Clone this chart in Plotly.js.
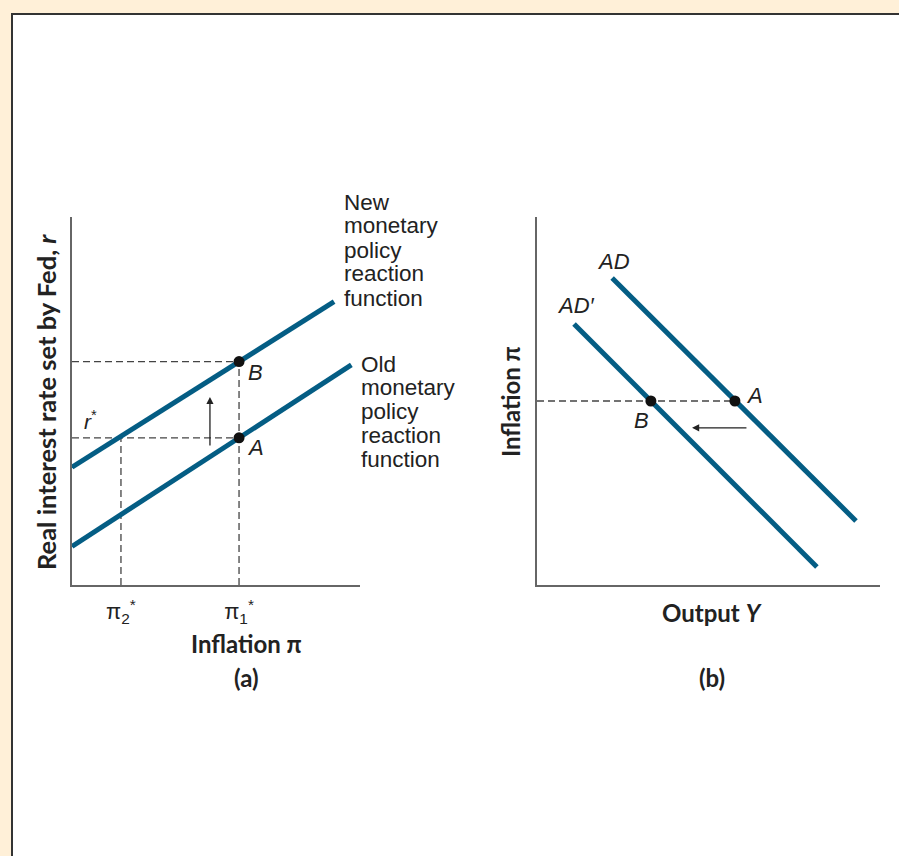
<!DOCTYPE html>
<html>
<head>
<meta charset="utf-8">
<script src="https://cdn.plot.ly/plotly-3.0.1.min.js"></script>
<style>html,body{margin:0;padding:0;background:#FFF0D8;}#chart{width:899px;height:856px;}</style>
</head>
<body>
<div id="chart"></div>
<script>
// ---------- data (panel a: policy reaction functions) ----------
const newRuleX = [0, 9.1];
const newRuleY = [3.2, 7.7];
const oldRuleX = [0, 9.7];
const oldRuleY = [1.05, 5.98];
const inflationStars = [1.7, 5.8];            // pi2*, pi1*
const inflationTickText = ['π<sub>2</sub><sup>*</sup>', 'π<sub>1</sub><sup>*</sup>'];
const rStar = 4.0;
const rNew = 6.07;
const pointsA_X = [5.8, 5.8];
const pointsA_Y = [4.0, 6.07];
const pointsA_Labels = ['A', 'B'];
const shiftArrowA = {x: 4.79, yFrom: 3.75, yTo: 5.11};

// ---------- data (panel b: aggregate demand) ----------
const adX = [2.19, 9.30];
const adY = [8.34, 1.74];
const adPrimeX = [1.08, 8.16];
const adPrimeY = [7.09, 0.49];
const pointsB_X = [5.77, 3.32];
const pointsB_Y = [5.0, 5.0];
const pointsB_Labels = ['A', 'B'];
const shiftArrowB = {y: 4.27, xFrom: 6.15, xTo: 4.52};

const newLabelLines = ['New', 'monetary', 'policy', 'reaction', 'function'];
const oldLabelLines = ['Old', 'monetary', 'policy', 'reaction', 'function'];

// ---------- styling ----------
const W = 899, H = 856;
const px = x => x / W;
const py = y => 1 - y / H;
const BLUE = '#045D84';
const DASH = '#444444';
const AXIS = '#666666';
const SANS = 'Liberation Sans, Arial, sans-serif';
const TITLEFONT = 'Lato, Open Sans, sans-serif';

const dashStyle = {color: DASH, width: 1.3, dash: '7px,4px'};

const traces = [
  // panel a dashed guides
  {x: [0, inflationStars[1]], y: [rNew, rNew], xaxis: 'x', yaxis: 'y', mode: 'lines', line: dashStyle},
  {x: [0, inflationStars[1]], y: [rStar, rStar], xaxis: 'x', yaxis: 'y', mode: 'lines', line: dashStyle},
  {x: [inflationStars[0], inflationStars[0]], y: [0, rStar], xaxis: 'x', yaxis: 'y', mode: 'lines', line: dashStyle},
  {x: [inflationStars[1], inflationStars[1]], y: [0, rNew], xaxis: 'x', yaxis: 'y', mode: 'lines', line: dashStyle},
  // panel a curves
  {x: newRuleX, y: newRuleY, xaxis: 'x', yaxis: 'y', mode: 'lines', line: {color: BLUE, width: 5}},
  {x: oldRuleX, y: oldRuleY, xaxis: 'x', yaxis: 'y', mode: 'lines', line: {color: BLUE, width: 5}},
  {x: pointsA_X, y: pointsA_Y, xaxis: 'x', yaxis: 'y', mode: 'markers', marker: {color: '#111', size: 11}, cliponaxis: false},
  // panel b dashed guide
  {x: [0, pointsB_X[0]], y: [pointsB_Y[0], pointsB_Y[0]], xaxis: 'x2', yaxis: 'y2', mode: 'lines', line: dashStyle},
  // panel b curves
  {x: adX, y: adY, xaxis: 'x2', yaxis: 'y2', mode: 'lines', line: {color: BLUE, width: 5}},
  {x: adPrimeX, y: adPrimeY, xaxis: 'x2', yaxis: 'y2', mode: 'lines', line: {color: BLUE, width: 5}},
  {x: pointsB_X, y: pointsB_Y, xaxis: 'x2', yaxis: 'y2', mode: 'markers', marker: {color: '#111', size: 11}, cliponaxis: false}
];

const axisCommon = {
  range: [0, 10], showgrid: false, zeroline: false, showline: true,
  linecolor: AXIS, linewidth: 2, ticks: '', fixedrange: true
};

function lab(text, x, y, size, opts) {
  return Object.assign({
    text: text, xref: 'paper', yref: 'paper', x: px(x), y: py(y),
    xanchor: 'center', yanchor: 'middle', showarrow: false,
    font: {family: SANS, size: size, color: '#222'}
  }, opts || {});
}

const annotations = [];
newLabelLines.forEach((t, i) => annotations.push(lab(t, 342, 202 + i * 24, 22.5, {xanchor: 'left'})));
oldLabelLines.forEach((t, i) => annotations.push(lab(t, 359, 364 + i * 23.8, 22.5, {xanchor: 'left'})));
annotations.push(lab('<i>' + pointsA_Labels[1] + '</i>', 255, 372, 22));
annotations.push(lab('<i>' + pointsA_Labels[0] + '</i>', 255, 448, 22));
annotations.push(lab('<i>r</i><sup>*</sup>', 90, 420, 21));
annotations.push(lab('<i>AD</i>', 613, 261, 22));
annotations.push(lab("<i>AD′</i>", 576, 306, 22));
annotations.push(lab('<i>' + pointsB_Labels[0] + '</i>', 754, 395, 22));
annotations.push(lab('<i>' + pointsB_Labels[1] + '</i>', 641, 420, 22));
// titles
const tf = {family: TITLEFONT, size: 24, color: '#222', weight: 'bold'};
const tfY = Object.assign({}, tf, {size: 25.5});
annotations.push(lab('<b>Inflation π</b>', 246, 643, 24, {font: tf}));
annotations.push(lab('<b>(a)</b>', 246, 677, 24, {font: tf}));
annotations.push(lab('<b>Output <i>Y</i></b>', 712, 612, 24, {font: tf}));
annotations.push(lab('<b>(b)</b>', 712, 677, 24, {font: tf}));
annotations.push(lab('<b>Real interest rate set by Fed, <i>r</i></b>', 46, 402, 25.5, {font: tfY, textangle: -90}));
annotations.push(lab('<b>Inflation π</b>', 510, 402, 24, {font: tf, textangle: -90}));
// shift arrows
annotations.push({xref: 'x', yref: 'y', axref: 'x', ayref: 'y', x: shiftArrowA.x, y: shiftArrowA.yTo,
  ax: shiftArrowA.x, ay: shiftArrowA.yFrom, text: '', showarrow: true, arrowhead: 2, arrowsize: 1.1,
  arrowwidth: 1.3, arrowcolor: '#222'});
annotations.push({xref: 'x2', yref: 'y2', axref: 'x2', ayref: 'y2', x: shiftArrowB.xTo, y: shiftArrowB.y,
  ax: shiftArrowB.xFrom, ay: shiftArrowB.y, text: '', showarrow: true, arrowhead: 2, arrowsize: 1.1,
  arrowwidth: 1.3, arrowcolor: '#222'});

const layout = {
  width: W, height: H,
  margin: {l: 0, r: 0, t: 0, b: 0},
  paper_bgcolor: '#FFF0D8',
  plot_bgcolor: 'rgba(0,0,0,0)',
  showlegend: false,
  xaxis: Object.assign({}, axisCommon, {
    domain: [px(72), px(360)], anchor: 'y',
    tickvals: inflationStars, ticktext: inflationTickText, showticklabels: true,
    ticklabelstandoff: 6,
    tickfont: {family: SANS, size: 22, color: '#222'}
  }),
  yaxis: Object.assign({}, axisCommon, {
    domain: [py(585), py(217)], anchor: 'x', showticklabels: false
  }),
  xaxis2: Object.assign({}, axisCommon, {
    domain: [px(537), px(880)], anchor: 'y2', showticklabels: false
  }),
  yaxis2: Object.assign({}, axisCommon, {
    domain: [py(585), py(217)], anchor: 'x2', showticklabels: false
  }),
  shapes: [{
    type: 'rect', xref: 'paper', yref: 'paper', layer: 'below',
    x0: px(12), y0: -0.05, x1: 1.05, y1: py(14),
    fillcolor: '#FFFFFF', line: {color: '#333333', width: 2}
  }],
  annotations: annotations
};

Plotly.newPlot('chart', traces, layout, {displayModeBar: false, staticPlot: true});
</script>
</body>
</html>
